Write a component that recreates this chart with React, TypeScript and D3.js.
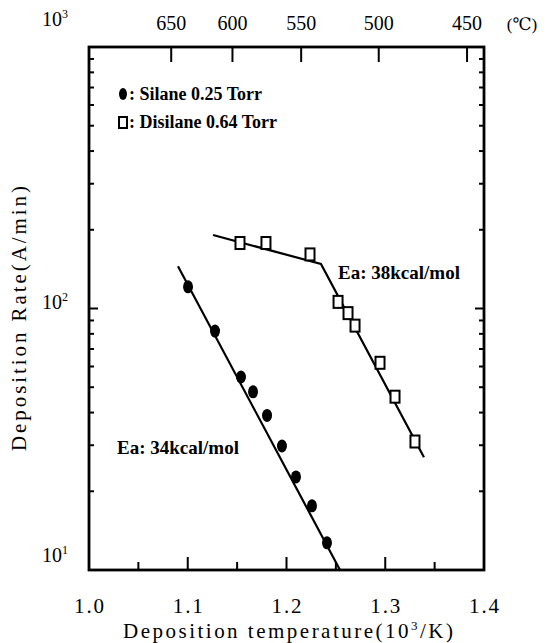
import React from 'react';
import * as d3 from 'd3';

// reciprocal temperature (10^3/K) vs deposition rate (A/min)
const silaneX = [1.1003, 1.1276, 1.1539, 1.1661, 1.1803, 1.1954, 1.2096, 1.2258, 1.241];
const silaneY = [121, 82, 54.7, 48, 39, 29.8, 22.7, 17.6, 12.7];
const disilaneX = [1.1529, 1.1792, 1.2238, 1.2522, 1.2623, 1.2694, 1.2947, 1.3099, 1.3301];
const disilaneY = [178, 178, 161, 106, 96, 86, 62, 46, 31];

const silaneFitX = [1.0901, 1.2542];
const silaneFitY = [145, 10];
const disilaneFitX = [1.1256, 1.2349, 1.3392];
const disilaneFitY = [191, 148, 27];

const xTicks = [1.0, 1.1, 1.2, 1.3, 1.4];
const xMinorTicks = [1.05, 1.1, 1.15, 1.2, 1.25, 1.3, 1.35];
const celsiusTicks = [650, 600, 550, 500, 450];
const yDecades = [10, 100, 1000];

const W = 552, H = 643;
const L = 89, R = 484, T = 47, B = 570;

const App = () => {
  const x = d3.scaleLinear().domain([1.0, 1.4]).range([L, R]);
  const y = d3.scaleLog().domain([10, 1000]).range([B, T]);

  const minorY: number[] = [];
  [10, 100].forEach(d => { for (let k = 2; k <= 9; k++) minorY.push(d * k); });

  const line = d3.line<[number, number]>().x(d => x(d[0])).y(d => y(d[1]));
  const silaneFit = silaneFitX.map((v, i) => [v, silaneFitY[i]] as [number, number]);
  const disilaneFit = disilaneFitX.map((v, i) => [v, disilaneFitY[i]] as [number, number]);

  const tickFont = '"Liberation Serif", "DejaVu Serif", serif';
  const boldFont = '"Liberation Serif", "DejaVu Serif", serif';

  return (
    <svg width={W} height={H} style={{ position: 'absolute', left: 0, top: 0, background: '#fff' }}>
      {/* frame */}
      <rect x={L} y={T} width={R - L} height={B - T} fill="none" stroke="#000" strokeWidth={2.8} />

      {/* bottom ticks */}
      {xMinorTicks.map(t => {
        const major = Math.abs(t * 10 - Math.round(t * 10)) < 1e-6;
        return <line key={'bx' + t} x1={x(t)} x2={x(t)} y1={B} y2={B - (major ? 13 : 8)} stroke="#000" strokeWidth={2} />;
      })}
      {xTicks.map(t => (
        <text key={'xl' + t} x={x(t)} y={613} textAnchor="middle" fontFamily={tickFont} fontSize={21} textLength={30} lengthAdjust="spacing">
          {t.toFixed(1)}
        </text>
      ))}

      {/* top celsius ticks */}
      {celsiusTicks.map(c => {
        const px = x(1000 / (c + 273.15));
        return (
          <g key={'c' + c}>
            <line x1={px} x2={px} y1={T} y2={T + 15} stroke="#000" strokeWidth={2} />
            <text x={px} y={30} textAnchor="middle" fontFamily={tickFont} fontSize={20}>{c}</text>
          </g>
        );
      })}
      <text x={522} y={30} textAnchor="middle" fontFamily={tickFont} fontSize={17}>(℃)</text>

      {/* y ticks */}
      {minorY.map(v => (
        <g key={'my' + v}>
          <line x1={L} x2={L + 5} y1={y(v)} y2={y(v)} stroke="#000" strokeWidth={2} />
          <line x1={R} x2={R - 5} y1={y(v)} y2={y(v)} stroke="#000" strokeWidth={2} />
        </g>
      ))}
      {yDecades.map(v => (
        <g key={'dy' + v}>
          <line x1={L} x2={L + 9} y1={y(v)} y2={y(v)} stroke="#000" strokeWidth={2} />
          <line x1={R} x2={R - 9} y1={y(v)} y2={y(v)} stroke="#000" strokeWidth={2} />
          <text x={68} y={y(v) + (v === 1000 ? -21 : v === 10 ? -8 : 0)} textAnchor="end" fontFamily={tickFont} fontSize={20}>
            10
            <tspan dy={-8} fontSize={12}>{Math.round(Math.log10(v))}</tspan>
          </text>
        </g>
      ))}

      {/* axis titles */}
      <text x={288} y={638} textAnchor="middle" fontFamily={tickFont} fontSize={21} textLength={330} lengthAdjust="spacing">
        Deposition temperature(10<tspan dy={-8} fontSize={13}>3</tspan><tspan dy={8}>/K)</tspan>
      </text>
      <text transform={`translate(26,${(T + B) / 2 + 10}) rotate(-90)`} textAnchor="middle" fontFamily={tickFont} fontSize={21} textLength={265} lengthAdjust="spacing">
        Deposition Rate(A/min)
      </text>

      {/* fit lines */}
      <path d={line(silaneFit) || ''} fill="none" stroke="#000" strokeWidth={2.2} />
      <path d={line(disilaneFit) || ''} fill="none" stroke="#000" strokeWidth={2.2} />

      {/* markers */}
      {silaneX.map((v, i) => (
        <ellipse key={'s' + i} cx={x(v)} cy={y(silaneY[i])} rx={5} ry={6.5} fill="#000" />
      ))}
      {disilaneX.map((v, i) => (
        <rect key={'d' + i} x={x(v) - 4.5} y={y(disilaneY[i]) - 6} width={9} height={12} fill="#fff" stroke="#000" strokeWidth={2} />
      ))}

      {/* legend */}
      <ellipse cx={123} cy={94} rx={4} ry={6} fill="#000" />
      <text x={129} y={100} fontFamily={boldFont} fontWeight="bold" fontSize={18}>: Silane 0.25 Torr</text>
      <rect x={119} y={117} width={8} height={11} fill="#fff" stroke="#000" strokeWidth={2} />
      <text x={129} y={128} fontFamily={boldFont} fontWeight="bold" fontSize={18}>: Disilane 0.64 Torr</text>

      {/* annotations */}
      <text x={338} y={279} fontFamily={boldFont} fontWeight="bold" fontSize={19}>Ea: 38kcal/mol</text>
      <text x={117} y={454} fontFamily={boldFont} fontWeight="bold" fontSize={19}>Ea: 34kcal/mol</text>
    </svg>
  );
};

export default App;
